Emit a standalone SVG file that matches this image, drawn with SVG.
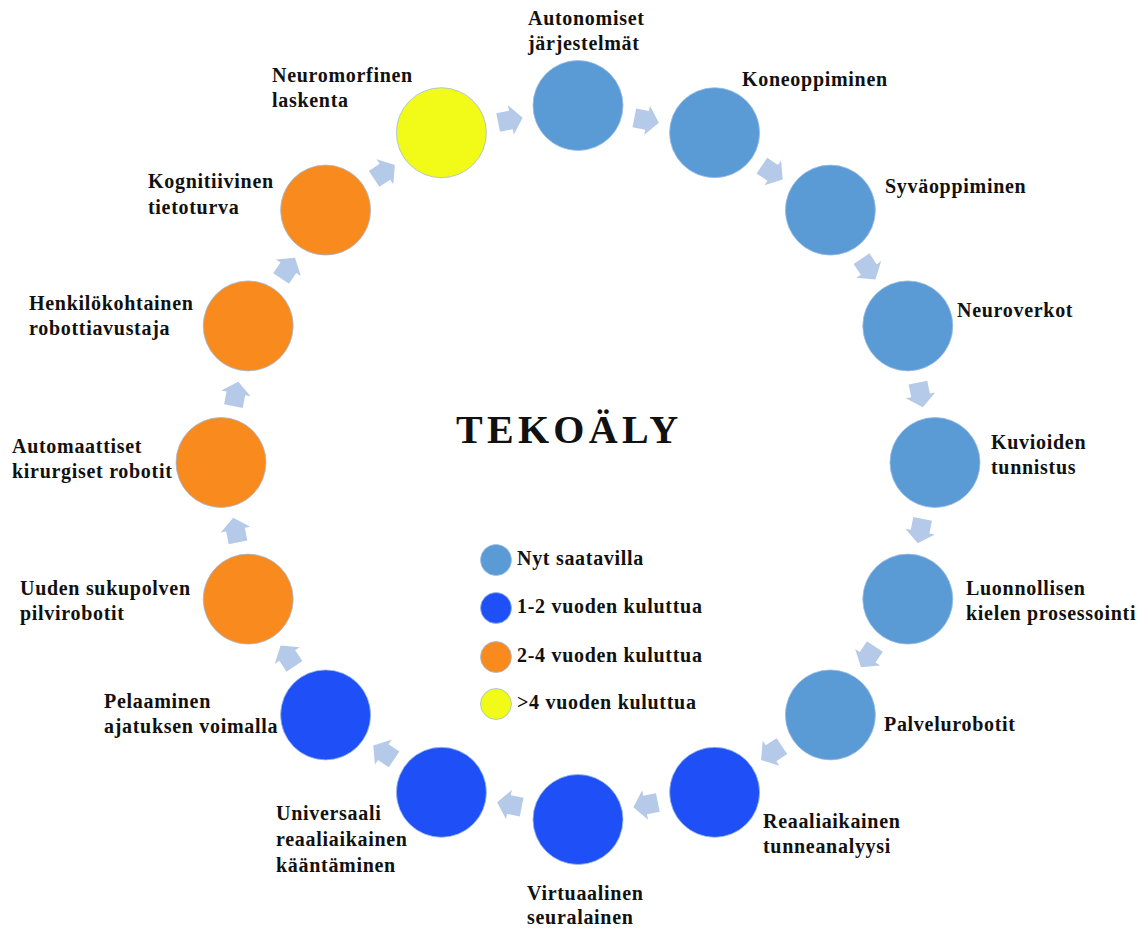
<svg xmlns="http://www.w3.org/2000/svg" width="1143" height="930" viewBox="0 0 1143 930">
<defs>
<style>
.lbl{font-family:"Liberation Serif","Times New Roman",serif;font-weight:bold;font-size:20px;letter-spacing:0.7px;fill:#111}
.title{font-family:"Liberation Serif","Times New Roman",serif;font-weight:bold;font-size:40px;letter-spacing:4.3px;fill:#111}
.n{stroke:#9dbde6;stroke-width:0.8}
.now{fill:#5b9bd5}
.y12{fill:#1f4ff7}
.y24{fill:#f98b1e}
.y4{fill:#f2fa17}
.arr{fill:#b5cae8}
</style>
<path id="ar" d="M-12,-9.5 L1,-9.5 L1,-15 L13,0 L1,15 L1,9.5 L-12,9.5 Z"/>
</defs>
<rect width="1143" height="930" fill="#ffffff"/>

<g id="connectors" class="arr">
<use href="#ar" transform="translate(646.1,120.2) rotate(11.25)"/>
<use href="#ar" transform="translate(771.9,172.3) rotate(33.75)"/>
<use href="#ar" transform="translate(868.2,268.6) rotate(56.25)"/>
<use href="#ar" transform="translate(920.3,394.4) rotate(78.75)"/>
<use href="#ar" transform="translate(920.3,530.6) rotate(101.25)"/>
<use href="#ar" transform="translate(868.2,656.4) rotate(123.75)"/>
<use href="#ar" transform="translate(771.9,752.7) rotate(146.25)"/>
<use href="#ar" transform="translate(646.1,804.8) rotate(168.75)"/>
<use href="#ar" transform="translate(509.9,804.8) rotate(191.25)"/>
<use href="#ar" transform="translate(384.1,752.7) rotate(213.75)"/>
<use href="#ar" transform="translate(287.8,656.4) rotate(236.25)"/>
<use href="#ar" transform="translate(235.7,530.6) rotate(258.75)"/>
<use href="#ar" transform="translate(235.7,394.4) rotate(281.25)"/>
<use href="#ar" transform="translate(287.8,268.6) rotate(303.75)"/>
<use href="#ar" transform="translate(384.1,172.3) rotate(326.25)"/>
<use href="#ar" transform="translate(509.9,120.2) rotate(348.75)"/>
</g>

<g id="n-autonomiset">
<circle class="n now" cx="578" cy="105.5" r="45"/>
<text class="lbl" x="528" y="25">Autonomiset</text>
<text class="lbl" x="528" y="50">järjestelmät</text>
</g>
<g id="n-koneoppiminen">
<circle class="n now" cx="714.6" cy="132.7" r="45"/>
<text class="lbl" x="742" y="86">Koneoppiminen</text>
</g>
<g id="n-syvaoppiminen">
<circle class="n now" cx="830.4" cy="210.1" r="45"/>
<text class="lbl" x="885" y="193">Syväoppiminen</text>
</g>
<g id="n-neuroverkot">
<circle class="n now" cx="907.8" cy="325.9" r="45"/>
<text class="lbl" x="957" y="317">Neuroverkot</text>
</g>
<g id="n-kuvioiden">
<circle class="n now" cx="935" cy="462.5" r="45"/>
<text class="lbl" x="991" y="449">Kuvioiden</text>
<text class="lbl" x="991" y="474">tunnistus</text>
</g>
<g id="n-luonnollisen">
<circle class="n now" cx="907.8" cy="599.1" r="45"/>
<text class="lbl" x="966" y="595">Luonnollisen</text>
<text class="lbl" x="966" y="620">kielen prosessointi</text>
</g>
<g id="n-palvelurobotit">
<circle class="n now" cx="830.4" cy="714.9" r="45"/>
<text class="lbl" x="884" y="731">Palvelurobotit</text>
</g>
<g id="n-reaaliaikainen">
<circle class="n y12" cx="714.6" cy="792.3" r="45"/>
<text class="lbl" x="763" y="828">Reaaliaikainen</text>
<text class="lbl" x="763" y="853">tunneanalyysi</text>
</g>
<g id="n-virtuaalinen">
<circle class="n y12" cx="578" cy="819.5" r="45"/>
<text class="lbl" x="527" y="900">Virtuaalinen</text>
<text class="lbl" x="527" y="924">seuralainen</text>
</g>
<g id="n-universaali">
<circle class="n y12" cx="441.4" cy="792.3" r="45"/>
<text class="lbl" x="276" y="820">Universaali</text>
<text class="lbl" x="276" y="846">reaaliaikainen</text>
<text class="lbl" x="276" y="872">kääntäminen</text>
</g>
<g id="n-pelaaminen">
<circle class="n y12" cx="325.6" cy="714.9" r="45"/>
<text class="lbl" x="104" y="708">Pelaaminen</text>
<text class="lbl" x="104" y="733">ajatuksen voimalla</text>
</g>
<g id="n-uuden">
<circle class="n y24" cx="248.2" cy="599.1" r="45"/>
<text class="lbl" x="20" y="595">Uuden sukupolven</text>
<text class="lbl" x="20" y="620">pilvirobotit</text>
</g>
<g id="n-automaattiset">
<circle class="n y24" cx="221" cy="462.5" r="45"/>
<text class="lbl" x="12" y="453">Automaattiset</text>
<text class="lbl" x="12" y="478">kirurgiset robotit</text>
</g>
<g id="n-henkilokohtainen">
<circle class="n y24" cx="248.2" cy="325.9" r="45"/>
<text class="lbl" x="29" y="310">Henkilökohtainen</text>
<text class="lbl" x="29" y="335">robottiavustaja</text>
</g>
<g id="n-kognitiivinen">
<circle class="n y24" cx="325.6" cy="210.1" r="45"/>
<text class="lbl" x="148" y="188">Kognitiivinen</text>
<text class="lbl" x="148" y="214">tietoturva</text>
</g>
<g id="n-neuromorfinen">
<circle class="n y4" cx="441.4" cy="132.7" r="45"/>
<text class="lbl" x="272" y="82">Neuromorfinen</text>
<text class="lbl" x="272" y="107">laskenta</text>
</g>

<g id="title">
<text class="title" x="456" y="443">TEKOÄLY</text>
</g>

<g id="legend">
<circle class="n now" cx="496" cy="560" r="15.5"/>
<text class="lbl" x="517" y="565">Nyt saatavilla</text>
<circle class="n y12" cx="496" cy="608" r="15.5"/>
<text class="lbl" x="517" y="613">1-2 vuoden kuluttua</text>
<circle class="n y24" cx="496" cy="657" r="15.5"/>
<text class="lbl" x="517" y="662">2-4 vuoden kuluttua</text>
<circle class="n y4" cx="496" cy="704" r="15.5"/>
<text class="lbl" x="517" y="709">&gt;4 vuoden kuluttua</text>
</g>
</svg>
